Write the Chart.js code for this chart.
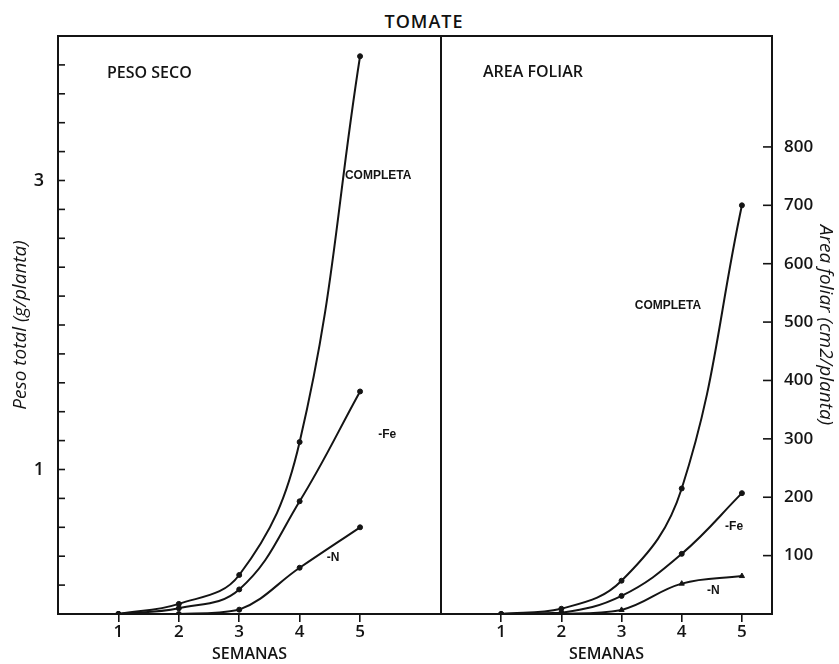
<!DOCTYPE html>
<html><head><meta charset="utf-8">
<script src="https://cdn.jsdelivr.net/npm/chart.js@4.4.1/dist/chart.umd.min.js"></script>
<style>
body{margin:0;background:#fff;width:839px;height:664px;overflow:hidden;position:relative;}
canvas{position:absolute;top:0;}
#c1{left:0;}
#c2{left:438px;}
#title{position:absolute;left:324px;width:200px;top:9px;text-align:center;font:600 18px "Open Sans";letter-spacing:1px;color:#111;}
</style></head>
<body>
<div id="title">TOMATE</div>
<canvas id="c1" width="444" height="664"></canvas>
<canvas id="c2" width="401" height="664"></canvas>
<script>
// ---- data ----
const weeks = [1, 2, 3, 4, 5];
const pesoCompleta = [0, 0.07, 0.27, 1.19, 3.86];
const pesoFe       = [0, 0.04, 0.17, 0.78, 1.54];
const pesoN        = [0, 0.00, 0.03, 0.32, 0.60];
const areaCompleta = [0, 9, 57, 215, 700];
const areaFe       = [0, 2, 31, 103, 207];
const areaN        = [0, 0, 7, 52, 65];
const weekTicks = [1, 2, 3, 4, 5];
const pesoTicks = [0.2,0.4,0.6,0.8,1,1.2,1.4,1.6,1.8,2,2.2,2.4,2.6,2.8,3,3.2,3.4,3.6,3.8];
const pesoTickLabels = [1, 3];
const areaTicks = [100, 200, 300, 400, 500, 600, 700, 800];

const INK = '#141414';
const FONT = '"Open Sans", "Liberation Sans", sans-serif';
Chart.defaults.color = INK;
Chart.defaults.font.family = FONT;

function pts(vals){ return weeks.map((w,i)=>({x:w, y:vals[i]})); }
function ds(label, vals, style){
  return {label, data: pts(vals), borderColor: INK, backgroundColor: INK, borderWidth: 2,
    pointRadius: style==='triangle'?3:2.5, pointStyle: style||'circle', pointBorderWidth:1,
    tension: 0.4, fill:false};
}

function makeDecor(cfg){
  return {id:'decor', afterDraw(chart){
    const {ctx, chartArea:a} = chart;
    const xs = chart.scales.x, ys = chart.scales.y;
    ctx.save();
    ctx.strokeStyle = INK; ctx.lineWidth = 2; ctx.lineCap = 'square';
    ctx.beginPath();
    if (cfg.side === 'left'){
      ctx.moveTo(a.right, a.bottom); ctx.lineTo(a.left, a.bottom); ctx.lineTo(a.left, a.top);
      ctx.lineTo(a.right, a.top); ctx.lineTo(a.right, a.bottom);
    } else {
      ctx.moveTo(a.left, a.top); ctx.lineTo(a.right, a.top); ctx.lineTo(a.right, a.bottom); ctx.lineTo(a.left, a.bottom);
    }
    ctx.stroke();
    ctx.lineWidth = 1.6; ctx.lineCap = 'butt';
    ys.ticks.forEach(t=>{
      const y = ys.getPixelForValue(t.value);
      ctx.beginPath();
      if (cfg.side === 'left'){ ctx.moveTo(a.left, y); ctx.lineTo(a.left + 7, y); }
      else { ctx.moveTo(a.right, y); ctx.lineTo(a.right - 9, y); }
      ctx.stroke();
    });
    ctx.fillStyle = INK; ctx.textBaseline = 'middle'; ctx.textAlign = 'left';
    ctx.font = '600 16px ' + FONT;
    ctx.fillText(cfg.panel, a.left + cfg.panelDx, a.top + cfg.panelDy);
    ctx.font = 'bold 12px "Liberation Sans", sans-serif';
    cfg.labels.forEach(l=>{
      ctx.fillText(l.text, xs.getPixelForValue(l.x), ys.getPixelForValue(l.y));
    });
    ctx.restore();
  }};
}

function xScale(max){
  return {type:'linear', min:0, max:max,
    afterBuildTicks: s=>{ s.ticks = weekTicks.map(v=>({value:v})); },
    afterFit: s=>{ s.height = 50; },
    grid:{display:true, drawOnChartArea:false, drawTicks:true, tickLength:8, color:INK, lineWidth:1.6},
    border:{display:false},
    ticks:{font:{size:17, weight:'600'}, color:INK, padding:0, maxRotation:0, autoSkip:false},
    title:{display:true, text:'SEMANAS', font:{size:16, weight:'600'}, color:INK, padding:{top:2,bottom:0}}
  };
}

function config1(){ return {
  type:'line',
  data:{datasets:[ds('COMPLETA', pesoCompleta), ds('-Fe', pesoFe), ds('-N', pesoN)]},
  options:{responsive:false, maintainAspectRatio:false, animation:false, devicePixelRatio:1,
    layout:{padding:{top:36, right:0, left:0, bottom:0}},
    plugins:{legend:{display:false}, tooltip:{enabled:false}},
    scales:{
      x: xScale(6.34),
      y: {type:'linear', position:'left', min:0, max:4,
        afterBuildTicks: s=>{ s.ticks = pesoTicks.map(v=>({value:v})); },
        afterFit: s=>{ s.width = 58; },
        grid:{display:false}, border:{display:false},
        ticks:{font:{size:18, weight:'600'}, color:INK, padding:6, autoSkip:false,
          callback: v=> pesoTickLabels.some(p=>Math.abs(p-v)<1e-6) ? String(v) : ''},
        title:{display:true, text:'Peso total (g/planta)', font:{size:19, style:'italic'}, color:INK, padding:{top:9,bottom:0}}
      }
    }
  },
  plugins:[makeDecor({side:'left', panel:'PESO SECO', panelDx:49, panelDy:37,
    labels:[{text:'COMPLETA', x:4.75, y:3.03},{text:'-Fe', x:5.30, y:1.24},{text:'-N', x:4.45, y:0.39}]})]
};}

function config2(){ return {
  type:'line',
  data:{datasets:[ds('COMPLETA', areaCompleta), ds('-Fe', areaFe), ds('-N', areaN, 'triangle')]},
  options:{responsive:false, maintainAspectRatio:false, animation:false, devicePixelRatio:1,
    layout:{padding:{top:36, right:0, left:0, bottom:0}},
    plugins:{legend:{display:false}, tooltip:{enabled:false}},
    scales:{
      x: xScale(5.5),
      y: {type:'linear', position:'right', min:0, max:990,
        afterBuildTicks: s=>{ s.ticks = areaTicks.map(v=>({value:v})); },
        afterFit: s=>{ s.width = 67; },
        grid:{display:false}, border:{display:false},
        ticks:{font:{size:17, weight:'600'}, color:INK, padding:4, autoSkip:false},
        title:{display:true, text:'Area foliar (cm2/planta)', font:{size:19, style:'italic'}, color:INK, padding:{top:2,bottom:0}}
      }
    }
  },
  plugins:[makeDecor({side:'right', panel:'AREA FOLIAR', panelDx:42, panelDy:36,
    labels:[{text:'COMPLETA', x:3.22, y:528},{text:'-Fe', x:4.72, y:150},{text:'-N', x:4.42, y:40}]})]
};}

// Panel edges: plot frame left x=58, divider x=441, right axis x=772
const DIV = 441, RIGHT = 772;
const cv1 = document.getElementById('c1');
const cv2 = document.getElementById('c2');

// pass 1: measure layout offsets, then rebuild with exact canvas sizes
let ch1 = new Chart(cv1, config1());
const offR1 = cv1.width - ch1.chartArea.right;
const offL1 = ch1.chartArea.left;
ch1.destroy();
cv1.width = Math.round(DIV + offR1); cv1.height = 664;
cv1.style.left = Math.round(58 - offL1) + 'px';
ch1 = new Chart(cv1, config1());

let ch2 = new Chart(cv2, config2());
const offL2 = ch2.chartArea.left;
const offR2 = cv2.width - ch2.chartArea.right;
ch2.destroy();
cv2.width = Math.round(offL2 + (RIGHT - DIV) + offR2); cv2.height = 664;
cv2.style.left = Math.round(DIV - offL2) + 'px';
ch2 = new Chart(cv2, config2());
</script>
</body></html>
